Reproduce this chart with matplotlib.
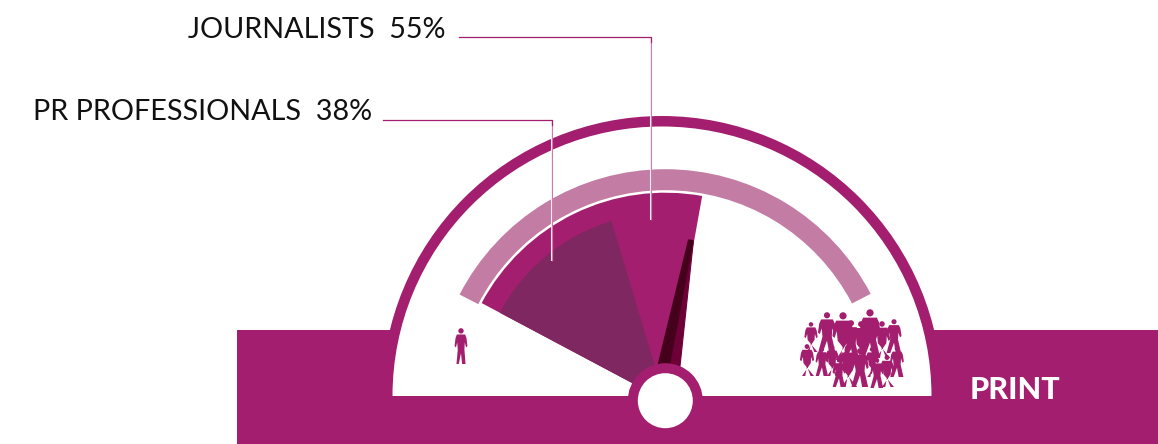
import numpy as np
import matplotlib
matplotlib.use('Agg')
import matplotlib.pyplot as plt
from matplotlib.patches import Wedge, Circle, Rectangle, Polygon

groups = ['JOURNALISTS', 'PR PROFESSIONALS']
shares = [55, 38]
# degrees of gauge travel per percentage point, one for each wedge
deg_per_pct = [1.313, 1.192]
wedge_radius = [208, 187.5]
wedge_colors = ['#a31e6e', '#7f2760']
medium = 'PRINT'

# crowd figures: x, top of head, soles (pixels from top left)
crowd_x = [811, 827, 843, 851, 861, 870, 882, 894, 807, 822, 832, 839, 848, 860, 872, 877, 887, 897]
crowd_top = [322, 312, 312, 320, 321, 309, 321, 319, 344, 347, 345, 358, 345, 348, 347, 358, 355, 346]
crowd_foot = [352, 353, 360, 360, 360, 357, 358, 353, 376, 376, 376, 387, 387, 387, 377, 388, 387, 377]

PURPLE = '#a31e6e'
W, H = 1158, 444
PIVOT = (665.3, H - 400.7)
DOME = (662, H - 396)
START = 152
END = 28
NEEDLE_ANGLE = 80.2


def flip(y):
    return H - y


def person(ax, x, top, foot, stride=1, girth=1.0, color=PURPLE, z=5):
    h = foot - top
    y0 = flip(foot)
    # outline runs from the left shoulder down the arm and round the legs
    body = np.array([(-0.11, 0.82), (0.11, 0.82), (0.145, 0.72), (0.17, 0.50), (0.135, 0.46),
                     (0.10, 0.60), (0.09, 0.40), (0.10 * stride + 0.02, 0.0), (0.03 * stride, 0.0),
                     (0.0, 0.30), (-0.06 * stride, 0.0), (-0.12 * stride, 0.0), (-0.085, 0.40),
                     (-0.10, 0.60), (-0.135, 0.46), (-0.17, 0.50), (-0.145, 0.72)])
    pts = np.column_stack([x + body[:, 0] * h * girth, y0 + body[:, 1] * h])
    ax.add_patch(Polygon(pts, closed=True, fc=color, ec='none', zorder=z))
    ax.add_patch(Circle((x, y0 + 0.92 * h), 0.075 * h, fc=color, ec='none', zorder=z))


fig = plt.figure(figsize=(W / 100, H / 100), dpi=100)
ax = fig.add_axes([0, 0, 1, 1])
ax.set_xlim(0, W)
ax.set_ylim(0, H)
ax.axis('off')

# base bar and dome
ax.add_patch(Rectangle((237, 0), W - 237, flip(330), fc=PURPLE, ec='none', zorder=1))
ax.add_patch(Wedge(DOME, 280, 0, 180, fc=PURPLE, ec='none', zorder=1))
ax.add_patch(Wedge(DOME, 269.5, 0, 180, fc='white', ec='none', zorder=2))

# scale band
ax.add_patch(Wedge(PIVOT, 231.5, END - 0.5, START + 0.7, width=21, fc='#c37ca3', ec='none', zorder=3))

# value wedges
for share, rate, r, c in zip(shares, deg_per_pct, wedge_radius, wedge_colors):
    ax.add_patch(Wedge(PIVOT, r, START - share * rate, START, fc=c, ec='none', zorder=3))

# needle, two tones split along its length
a = np.radians(NEEDLE_ANGLE)
u = np.array([np.cos(a), np.sin(a)])
n = np.array([np.sin(a), -np.cos(a)])
origin = np.array(PIVOT) - 2 * n
base = origin + 30 * u
tip = origin + 162 * u
left = [base - 11 * n, tip - 2 * n, tip + 1.5 * n, base - 0.5 * n]
right = [base - 0.5 * n, tip + 1.5 * n, tip + 2.5 * n, base + 11 * n]
ax.add_patch(Polygon(right, closed=True, fc='#6d0037', ec='#6d0037', lw=0.8, joinstyle='round', zorder=4))
ax.add_patch(Polygon(left, closed=True, fc='#45001c', ec='#45001c', lw=1.5, joinstyle='round', zorder=4))

# hub
ax.add_patch(Circle(PIVOT, 37.5, fc=PURPLE, ec='none', zorder=6))
ax.add_patch(Circle(PIVOT, 27.5, fc='white', ec='none', zorder=7))

# low and high audience figures
person(ax, 461, 328, 364, girth=1.05)
for i, (x, top, foot) in enumerate(zip(crowd_x, crowd_top, crowd_foot)):
    person(ax, x, top, foot, stride=1.4 if i % 2 else -1.4, girth=1.3)

# callouts
callouts = [(445, 38, 459, 37, 651, 220), (372, 120, 383, 120, 552, 261)]
for name, share, (tx, ty, x0, ly, x1, y1) in zip(groups, shares, callouts):
    ax.text(tx, flip(ty), f'{name}  {share}%', ha='right', va='baseline', fontsize=20.7,
            family='Lato', fontweight='regular', color='#111111', zorder=9)
    ax.plot([x1, x1], [flip(ly), flip(y1)], color='#fbeaf3', lw=1.5, solid_capstyle='butt', zorder=8)
    ax.plot([x1, x1], [flip(ly), flip(y1)], color='#c466a0', lw=0.6, solid_capstyle='butt', zorder=8)
    ax.plot([x0, x1, x1], [flip(ly), flip(ly), flip(ly) - 5], color=PURPLE, lw=0.9, zorder=8)

ax.text(1014.5, flip(399), medium, ha='center', va='baseline', fontsize=22, family='Lato',
        fontweight='black', color='white', zorder=9)

fig.savefig('out.png', dpi=100)
